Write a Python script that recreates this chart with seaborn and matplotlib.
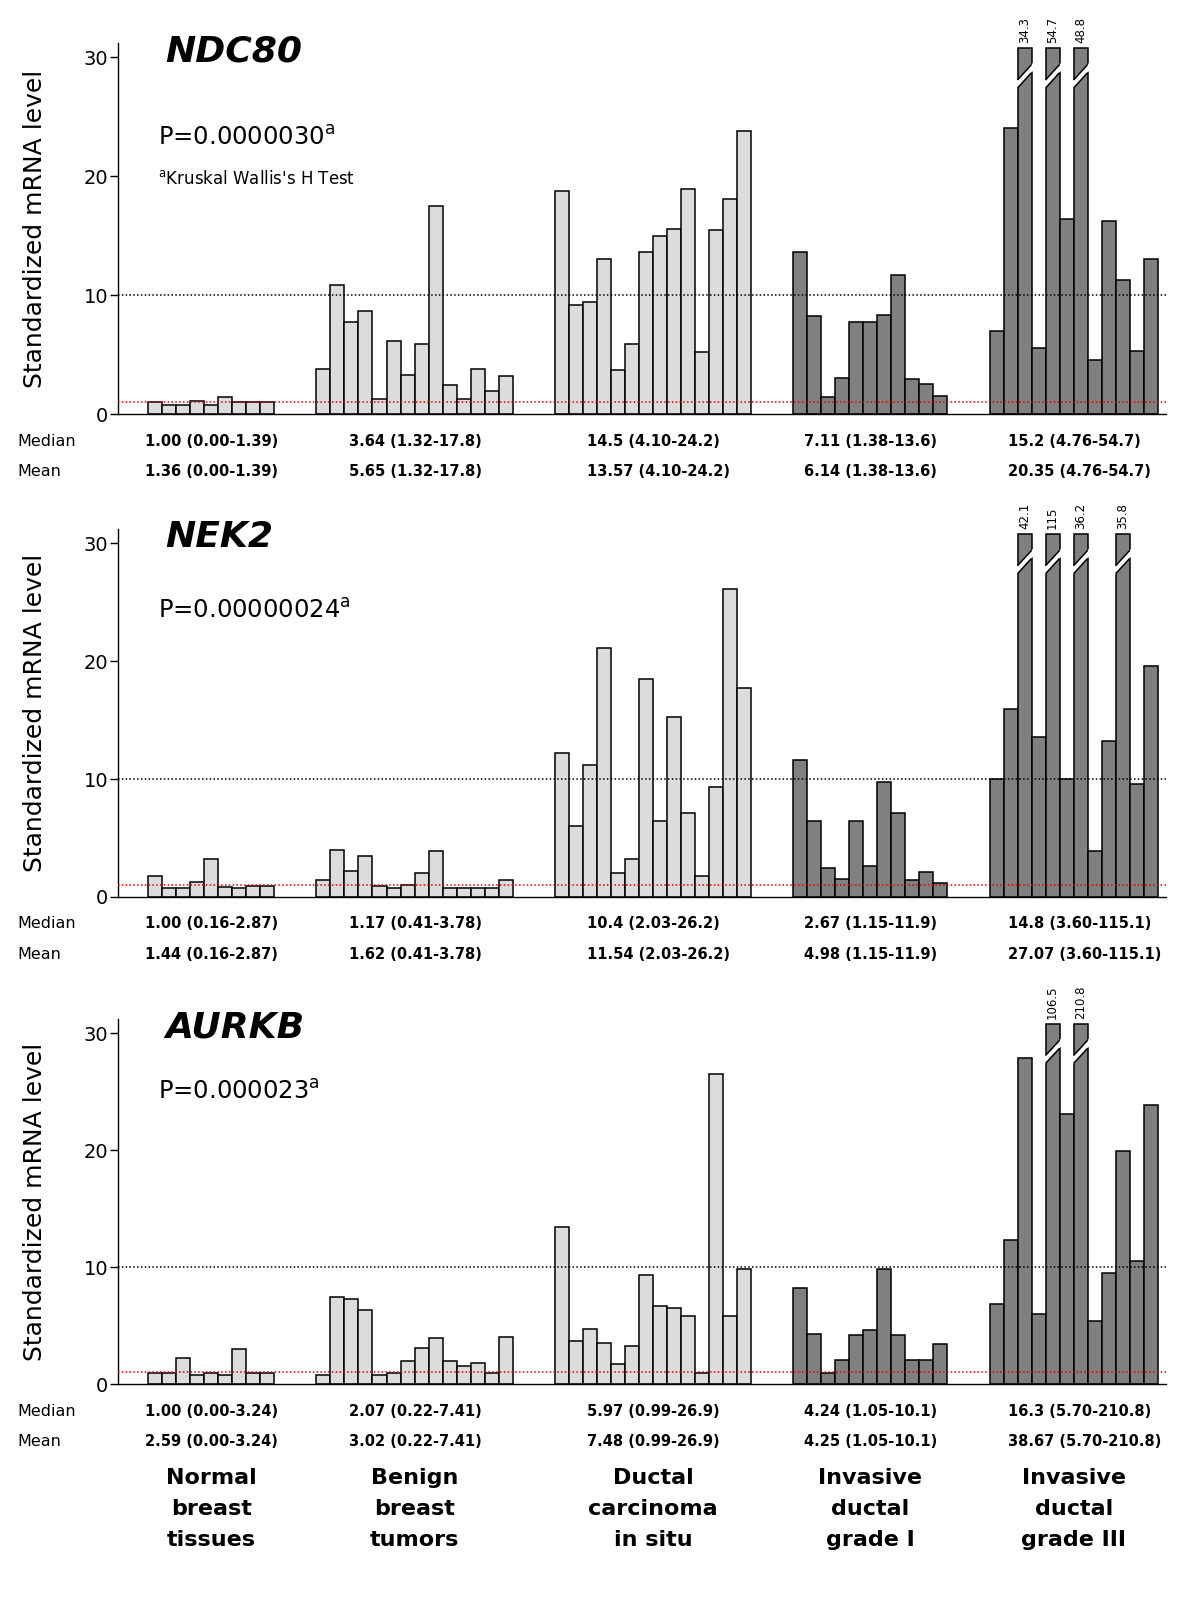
import numpy as np
import pandas as pd
import matplotlib
matplotlib.use("Agg")
import matplotlib.pyplot as plt
import seaborn as sns

sns.set_style("white")
plt.rcParams["font.family"] = ["DejaVu Sans"]
plt.rcParams["text.color"] = "black"
plt.rcParams["axes.labelcolor"] = "black"
plt.rcParams["ytick.color"] = "black"

# --- data ---------------------------------------------------------------------
group_labels = ["Normal\nbreast\ntissues", "Benign\nbreast\ntumors",
                "Ductal\ncarcinoma\nin situ", "Invasive\nductal\ngrade I",
                "Invasive\nductal\ngrade III"]
group_tone = ["light", "light", "light", "dark", "dark"]
genes = ["NDC80", "NEK2", "AURKB"]
p_values = ["0.0000030", "0.00000024", "0.000023"]

ndc80_normal = [1.0, 0.75, 0.75, 1.1, 0.75, 1.39, 1.0, 1.0, 1.0]
ndc80_benign = [3.77, 10.83, 7.70, 8.67, 1.30, 6.12, 3.32, 5.90, 17.45, 2.44, 1.30, 3.77, 1.94, 3.19]
ndc80_dcis = [18.75, 9.17, 9.45, 13.0, 3.68, 5.9, 13.66, 14.96, 15.57, 18.9, 5.2, 15.5, 18.06, 23.8]
ndc80_grade1 = [13.6, 8.2, 1.47, 2.99, 7.76, 7.76, 8.31, 11.69, 2.94, 2.52, 1.55]
ndc80_grade3 = [6.95, 24.04, 34.3, 5.54, 54.7, 16.4, 48.8, 4.52, 16.2, 11.3, 5.26, 13.07]

nek2_normal = [1.82, 0.76, 0.76, 1.26, 3.22, 0.84, 0.76, 0.9, 0.9]
nek2_benign = [1.46, 4.0, 2.24, 3.45, 0.9, 0.76, 1.0, 2.04, 3.89, 0.76, 0.76, 0.76, 0.76, 1.4]
nek2_dcis = [12.2, 6.02, 11.15, 21.1, 2.04, 3.25, 18.5, 6.47, 15.3, 7.1, 1.82, 9.36, 26.1, 17.7]
nek2_grade1 = [11.6, 6.47, 2.49, 1.54, 6.47, 2.66, 9.75, 7.1, 1.48, 2.16, 1.18]
nek2_grade3 = [10.0, 15.9, 42.1, 13.6, 115, 10.0, 36.2, 3.92, 13.2, 35.8, 9.55, 19.6]

aurkb_normal = [0.9, 0.9, 2.25, 0.8, 0.9, 0.8, 3.02, 0.9, 0.9]
aurkb_benign = [0.8, 7.42, 7.25, 6.34, 0.8, 0.9, 2.0, 3.12, 3.89, 2.0, 1.58, 1.81, 0.97, 4.06]
aurkb_dcis = [13.4, 3.69, 4.7, 3.49, 1.74, 3.26, 9.36, 6.71, 6.51, 5.84, 0.9, 26.5, 5.84, 9.87]
aurkb_grade1 = [8.22, 4.26, 0.9, 2.08, 4.19, 4.63, 9.87, 4.19, 2.08, 2.08, 3.42]
aurkb_grade3 = [6.85, 12.3, 27.85, 6.0, 106.5, 23.05, 210.8, 5.37, 9.46, 19.93, 10.54, 23.86]

ndc80_median = ["1.00 (0.00-1.39)", "3.64 (1.32-17.8)", "14.5 (4.10-24.2)", "7.11 (1.38-13.6)", "15.2 (4.76-54.7)"]
ndc80_mean = ["1.36 (0.00-1.39)", "5.65 (1.32-17.8)", "13.57 (4.10-24.2)", "6.14 (1.38-13.6)", "20.35 (4.76-54.7)"]
nek2_median = ["1.00 (0.16-2.87)", "1.17 (0.41-3.78)", "10.4 (2.03-26.2)", "2.67 (1.15-11.9)", "14.8 (3.60-115.1)"]
nek2_mean = ["1.44 (0.16-2.87)", "1.62 (0.41-3.78)", "11.54 (2.03-26.2)", "4.98 (1.15-11.9)", "27.07 (3.60-115.1)"]
aurkb_median = ["1.00 (0.00-3.24)", "2.07 (0.22-7.41)", "5.97 (0.99-26.9)", "4.24 (1.05-10.1)", "16.3 (5.70-210.8)"]
aurkb_mean = ["2.59 (0.00-3.24)", "3.02 (0.22-7.41)", "7.48 (0.99-26.9)", "4.25 (1.05-10.1)", "38.67 (5.70-210.8)"]

gene_values = [
    [ndc80_normal, ndc80_benign, ndc80_dcis, ndc80_grade1, ndc80_grade3],
    [nek2_normal, nek2_benign, nek2_dcis, nek2_grade1, nek2_grade3],
    [aurkb_normal, aurkb_benign, aurkb_dcis, aurkb_grade1, aurkb_grade3],
]
gene_medians = [ndc80_median, nek2_median, aurkb_median]
gene_means = [ndc80_mean, nek2_mean, aurkb_mean]

# --- layout / style -----------------------------------------------------------
TONE_COLORS = {"light": "#dcdcdc", "dark": "#808080"}
GAP = 3            # empty slots between groups
CAP = 30.75        # broken bars are drawn up to here
BREAK_Y = 28.4     # where the break slash sits
YTOP = 31.2
AX_RECTS = [
    [0.0983, 0.74125, 0.8733, 0.2319],
    [0.0983, 0.43938, 0.8733, 0.2300],
    [0.0983, 0.13500, 0.8733, 0.2281],
]
P_Y = [23.2, 24.3, 25.0]


def build_frame(groups):
    rows = []
    start = 0
    for g, vals in enumerate(groups):
        for i, v in enumerate(vals):
            rows.append({"group": g, "pos": start + i, "value": v, "tone": group_tone[g]})
        start += len(vals) + GAP
    df = pd.DataFrame(rows)
    df["shown"] = np.minimum(df["value"], CAP)
    return df


def draw_break(ax, xc):
    s, band = 1.3, 0.34
    x0, x1 = xc - 0.78, xc + 0.62
    yl = lambda x: BREAK_Y + s * (x - xc)
    poly = [(x0, yl(x0) - band), (x1, yl(x1) - band), (x1, yl(x1) + band), (x0, yl(x0) + band)]
    ax.fill([p[0] for p in poly], [p[1] for p in poly], color="white", zorder=4, lw=0)
    xs = np.array([xc - 0.5, xc + 0.5])
    ax.plot(xs, yl(xs) - band, color="black", lw=1.1, zorder=5, solid_capstyle="butt")
    ax.plot(xs, yl(xs) + band, color="black", lw=1.1, zorder=5, solid_capstyle="butt")


fig = plt.figure(figsize=(12, 16), dpi=100)

for k, gene in enumerate(genes):
    ax = fig.add_axes(AX_RECTS[k])
    df = build_frame(gene_values[k])
    sns.barplot(data=df, x="pos", y="shown", hue="tone", palette=TONE_COLORS,
                native_scale=True, width=1, dodge=False, saturation=1,
                edgecolor="black", linewidth=1.1, errorbar=None, legend=False,
                ax=ax, zorder=2)

    ax.set_xlim(-2.65, df["pos"].max() + 1.08)
    ax.set_ylim(0, YTOP)
    ax.axhline(10, color="black", ls=(0, (1, 1.5)), lw=1.1, zorder=3)
    ax.axhline(1, color="#dd0000", ls=(0, (1, 1.5)), lw=1.1, zorder=3)

    # broken bars
    for _, r in df[df["value"] > CAP].iterrows():
        draw_break(ax, r["pos"])
        ax.annotate(f"{r['value']:g}", xy=(r["pos"], CAP), xytext=(0, 4),
                    textcoords="offset points", rotation=90, ha="center", va="bottom",
                    fontsize=8.5, annotation_clip=False)

    sns.despine(ax=ax)
    for side in ["left", "bottom"]:
        ax.spines[side].set_linewidth(1)
        ax.spines[side].set_color("black")
    ax.set_xticks([])
    ax.set_xlabel("")
    ax.set_yticks([0, 10, 20, 30])
    ax.tick_params(axis="y", direction="out", length=6, width=1, labelsize=14, pad=1,
                   colors="black", left=True)
    ax.set_ylabel("Standardized mRNA level", fontsize=18)
    ax.yaxis.set_label_coords(-0.068, 0.5)

    ax.text(0.045, 30.5, gene, transform=ax.get_yaxis_transform(), fontsize=26,
            fontweight="bold", fontstyle="italic", va="center", ha="left")
    ax.text(0.038, P_Y[k], "P=" + p_values[k] + r"$^{\mathregular{a}}$",
            transform=ax.get_yaxis_transform(), fontsize=17.5, va="center", ha="left")
    if k == 0:
        ax.text(0.038, 19.8, r"$^{\mathregular{a}}$Kruskal Wallis's H Test",
                transform=ax.get_yaxis_transform(), fontsize=12, va="center", ha="left")

    # median / mean rows under each group
    for label, texts, dy in [("Median", gene_medians[k], -27), ("Mean", gene_means[k], -58)]:
        ax.annotate(label, xy=(17 / 1200, 0), xycoords=("figure fraction", "axes fraction"),
                    xytext=(0, dy), textcoords="offset pixels", fontsize=11.5,
                    ha="left", va="center", annotation_clip=False)
        for g in range(len(group_labels)):
            xc = df.loc[df["group"] == g, "pos"].mean()
            ax.annotate(texts[g], xy=(xc - 4.7, 0), xycoords=("data", "axes fraction"),
                        xytext=(0, dy), textcoords="offset pixels", fontsize=10.5,
                        fontweight="bold", ha="left", va="center", annotation_clip=False)

    if k == len(genes) - 1:
        for g, lab in enumerate(group_labels):
            xc = df.loc[df["group"] == g, "pos"].mean()
            ax.annotate(lab, xy=(xc, 0), xycoords=("data", "axes fraction"),
                        xytext=(0, -125), textcoords="offset pixels", fontsize=16,
                        fontweight="bold", ha="center", va="center", linespacing=1.7,
                        annotation_clip=False)

fig.savefig("out.png", dpi=100)
